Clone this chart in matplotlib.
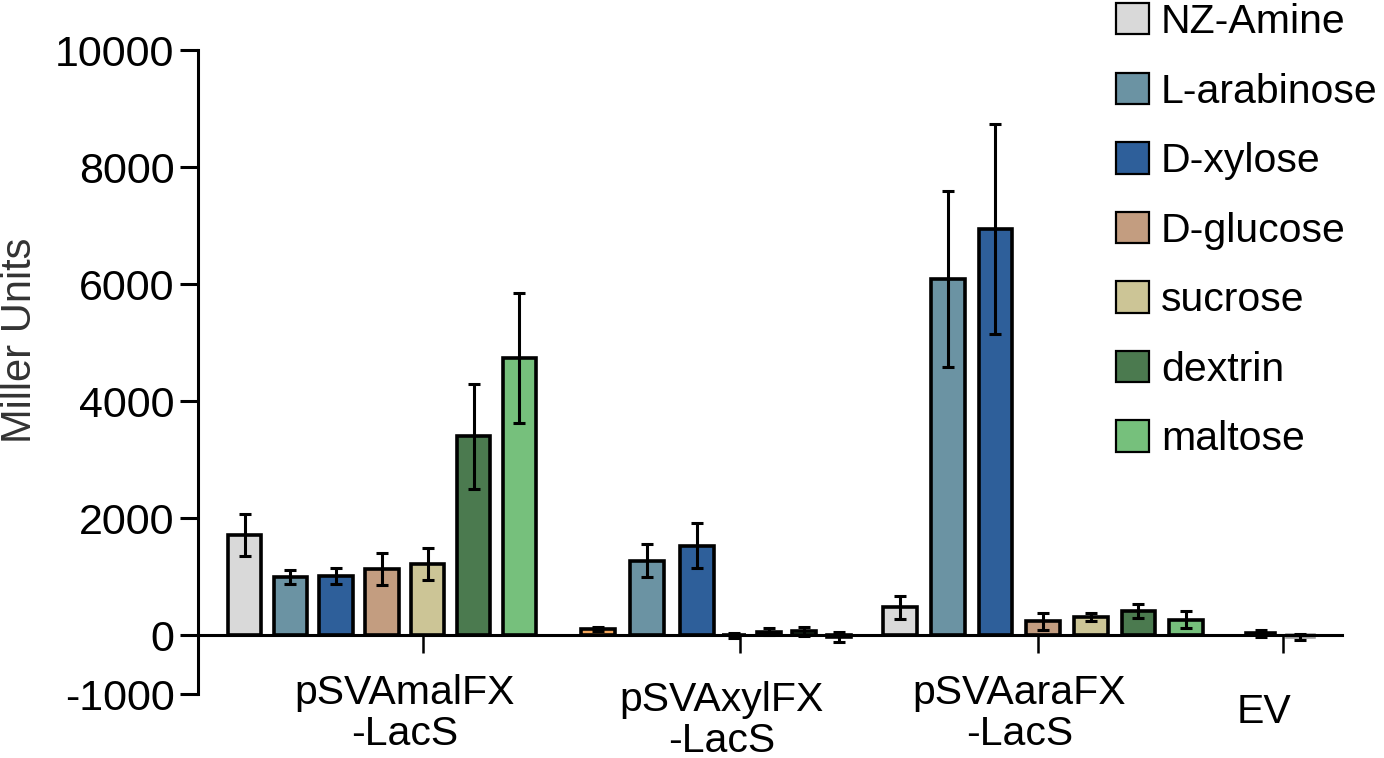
import numpy as np
import matplotlib
matplotlib.use('Agg')
import matplotlib.pyplot as plt
from matplotlib.patches import Patch

plt.rcParams['font.family'] = ['Liberation Sans', 'DejaVu Sans']
plt.rcParams['axes.unicode_minus'] = False

# 数据：每组的均值和误差
groups = ['pSVAmalFX\n-LacS', 'pSVAxylFX\n-LacS', 'pSVAaraFX\n-LacS', 'EV']
carbon = ['NZ-Amine', 'L-arabinose', 'D-xylose', 'D-glucose', 'sucrose', 'dextrin', 'maltose']
carbon_colors = ['#d9d9d9', '#6b93a3', '#2e5f9a', '#c39d80', '#ccc596', '#4b7a4f', '#76c07c']

mal_vals = [1720, 1005, 1020, 1140, 1225, 3400, 4740]
mal_err = [360, 120, 135, 275, 270, 900, 1110]
xyl_vals = [110, 1280, 1535, 0, 60, 70, -20]
xyl_err = [40, 290, 390, 45, 60, 75, 85]
ara_vals = [480, 6090, 6940, 240, 320, 410, 270]
ara_err = [200, 1500, 1790, 150, 70, 120, 140]
ev_vals = [40, -30]
ev_err = [60, 50]

# xylFX 第一根柱子是橙色，EV 两根是黑/灰
xyl_colors = ['#f2a55a'] + carbon_colors[1:]
ev_colors = ['#111111', '#a0a0a0']
ev_edges = ['black', '#a0a0a0']

# 柱子位置（以"槽"为单位）
mal_x = 1.0 + 0.985 * np.arange(7)
xyl_x = 8.6 + np.concatenate([[0], np.cumsum([1.06, 1.07, 0.8, 0.75, 0.75, 0.75])])
ara_x = 15.1 + 1.025 * np.arange(7)
ev_x = np.array([22.85, 23.7])
xyl_w = [0.72, 0.72, 0.72, 0.52, 0.52, 0.52, 0.52]
tick_x = [4.84, 11.66, 18.06, 23.33]

fig = plt.figure(figsize=(13.84, 7.58), dpi=100)
ax = fig.add_axes([198 / 1384, 1 - 694 / 758, (1342 - 198) / 1384, (694 - 50) / 758])

lw = 2.2
blw = 2.6
ekw = dict(ecolor='black', elinewidth=lw, capsize=4, capthick=lw)

ax.bar(mal_x, mal_vals, width=0.72, color=carbon_colors, edgecolor='black', linewidth=blw,
       yerr=mal_err, error_kw=ekw, zorder=2)
ax.bar(xyl_x, xyl_vals, width=xyl_w, color=xyl_colors, edgecolor='black', linewidth=blw,
       yerr=xyl_err, error_kw=ekw, zorder=2)
ax.bar(ara_x, ara_vals, width=0.72, color=carbon_colors, edgecolor='black', linewidth=blw,
       yerr=ara_err, error_kw=ekw, zorder=2)
ax.bar(ev_x, ev_vals, width=[0.64, 0.58], color=ev_colors, edgecolor=ev_edges, linewidth=blw,
       yerr=ev_err, error_kw=ekw, zorder=2)

ax.set_xlim(0, (1342 - 198) / 46.5)
ax.set_ylim(-1000, 10000)
ax.set_yticks([-1000, 0, 2000, 4000, 6000, 8000, 10000])
ax.tick_params(axis='y', direction='out', length=13, width=lw, labelsize=31, pad=4)

ax.set_xticks(tick_x)
ax.set_xticklabels([])
ax.tick_params(axis='x', direction='out', length=13, width=1.8)

label_y = [-1340, -1460, -1340, -1300]
for xt, name, ly in zip(tick_x, groups, label_y):
    ax.text(xt - 0.4, ly, name, ha='center', va='center', fontsize=29.5,
            linespacing=1.1, clip_on=False)

ax.spines['top'].set_visible(False)
ax.spines['right'].set_visible(False)
ax.spines['bottom'].set_position(('data', 0))
ax.spines['bottom'].set_linewidth(lw)
ax.spines['left'].set_linewidth(lw)
ax.spines['bottom'].set_zorder(3)

fig.text(20 / 1384, 1 - 340 / 758, 'Miller Units', rotation=90, ha='center', va='center',
         fontsize=30, color='#333333')

handles = [Patch(facecolor=c, edgecolor='black', linewidth=1.6) for c in carbon_colors]
fig.legend(handles, carbon, loc='upper left', bbox_to_anchor=(1116 / 1384, 0.996),
           frameon=False, fontsize=29.5, handlelength=0.8, handleheight=0.8,
           handletextpad=0.3, labelspacing=0.77, borderpad=0, borderaxespad=0)

plt.savefig('out.png', dpi=100)
